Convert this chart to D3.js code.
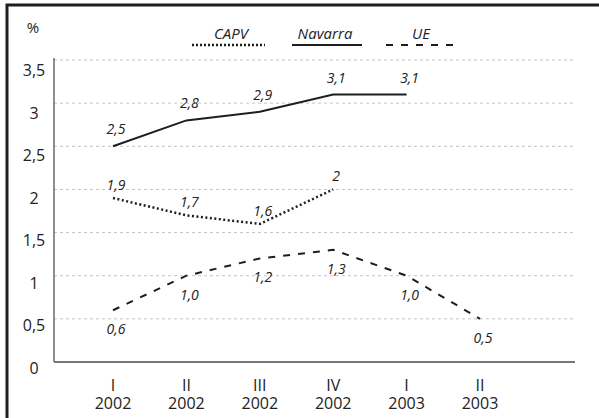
<!DOCTYPE html>
<html>
<head>
<meta charset="utf-8">
<script src="https://cdn.jsdelivr.net/npm/d3@7"></script>
<style>
  body { margin: 0; background: #fff; }
  svg { display: block; font-family: "Open Sans", "Noto Sans", sans-serif; }
</style>
</head>
<body>
<svg id="chart" width="599" height="418"></svg>
<script>
var quarters = ['I', 'II', 'III', 'IV', 'I', 'II'];
var years = ['2002', '2002', '2002', '2002', '2003', '2003'];
var yTicks = [0, 0.5, 1, 1.5, 2, 2.5, 3, 3.5];

var navarra = [2.5, 2.8, 2.9, 3.1, 3.1];
var navarraLabels = ['2,5', '2,8', '2,9', '3,1', '3,1'];
var capv = [1.9, 1.7, 1.6, 2.0];
var capvLabels = ['1,9', '1,7', '1,6', '2'];
var ue = [0.6, 1.0, 1.2, 1.3, 1.0, 0.5];
var ueLabels = ['0,6', '1,0', '1,2', '1,3', '1,0', '0,5'];

(function () {
	var svg = d3.select('#chart');
	var left = 54, right = 575;

	var x = d3.scaleLinear().domain([0, 5]).range([113, 480]);
	var y = d3.scaleLinear().domain([0, 3.5]).range([362, 60]);
	// tick labels sit a little under their gridlines, drifting slightly
	var yLab = d3.scaleLinear().domain([0, 3.5]).range([374, 76]);

	// frame
	svg.append('rect')
		.attr('x', 7).attr('y', 5)
		.attr('width', 620).attr('height', 430)
		.attr('fill', 'none')
		.attr('stroke', '#1e1e1e')
		.attr('stroke-width', 3);

	// grid
	svg.selectAll('line.grid')
		.data(yTicks.filter(function (d) { return d > 0; }))
		.enter().append('line')
		.attr('class', 'grid')
		.attr('x1', left).attr('x2', right)
		.attr('y1', function (d) { return y(d); })
		.attr('y2', function (d) { return y(d); })
		.attr('stroke', '#c4c4c4')
		.attr('stroke-width', 1)
		.attr('stroke-dasharray', '3,3');

	// axes lines
	svg.append('line')
		.attr('x1', left).attr('x2', left)
		.attr('y1', y(3.5) - 2).attr('y2', y(0))
		.attr('stroke', '#444').attr('stroke-width', 1.2);
	svg.append('line')
		.attr('x1', left).attr('x2', right)
		.attr('y1', y(0)).attr('y2', y(0))
		.attr('stroke', '#777').attr('stroke-width', 2);

	// y tick labels
	svg.selectAll('text.ytick')
		.data(yTicks)
		.enter().append('text')
		.attr('class', 'ytick')
		.attr('x', 34)
		.attr('y', function (d) { return yLab(d); })
		.attr('text-anchor', 'middle')
		.attr('font-size', 16)
		.attr('fill', '#222')
		.text(function (d) { return String(d).replace('.', ','); });

	svg.append('text')
		.attr('x', 33).attr('y', 33)
		.attr('text-anchor', 'middle')
		.attr('font-size', 15)
		.attr('fill', '#222')
		.text('%');

	// x labels: quarter over year
	var xl = svg.selectAll('text.xl')
		.data(quarters)
		.enter().append('text')
		.attr('class', 'xl')
		.attr('text-anchor', 'middle')
		.attr('font-size', 16)
		.attr('fill', '#222');
	xl.append('tspan')
		.attr('x', function (d, i) { return x(i); })
		.attr('y', 391)
		.text(function (d) { return d; });
	xl.append('tspan')
		.attr('x', function (d, i) { return x(i); })
		.attr('y', 409)
		.text(function (d, i) { return years[i]; });

	var line = d3.line()
		.x(function (d, i) { return x(i); })
		.y(function (d) { return y(d); });

	var series = [
		{ values: navarra, labels: navarraLabels, dash: null, width: 2, dy: -17 },
		{ values: capv, labels: capvLabels, dash: '2,2.5', width: 2.5, dy: -13 },
		{ values: ue, labels: ueLabels, dash: '7,8', width: 2, dy: 19 }
	];

	series.forEach(function (s) {
		svg.append('path')
			.datum(s.values)
			.attr('d', line)
			.attr('fill', 'none')
			.attr('stroke', '#1e1e1e')
			.attr('stroke-width', s.width)
			.attr('stroke-dasharray', s.dash);

		svg.selectAll(null)
			.data(s.values)
			.enter().append('text')
			.attr('x', function (d, i) { return x(i) + 3; })
			.attr('y', function (d) { return y(d) + s.dy + 5; })
			.attr('text-anchor', 'middle')
			.attr('font-size', 14)
			.attr('font-style', 'italic')
			.attr('fill', '#222')
			.text(function (d, i) { return s.labels[i]; });
	});

	// legend
	var legend = [
		{ name: 'CAPV', x1: 192, x2: 265, tx: 231, dash: '2,2', width: 2.5 },
		{ name: 'Navarra', x1: 292, x2: 362, tx: 325, dash: null, width: 2 },
		{ name: 'UE', x1: 386, x2: 458, tx: 421, dash: '7,8', width: 2 }
	];
	legend.forEach(function (l) {
		svg.append('text')
			.attr('x', l.tx).attr('y', 39)
			.attr('text-anchor', 'middle')
			.attr('font-size', 15)
			.attr('font-style', 'italic')
			.attr('fill', '#222')
			.text(l.name);
		svg.append('line')
			.attr('x1', l.x1).attr('x2', l.x2)
			.attr('y1', 45).attr('y2', 45)
			.attr('stroke', '#1e1e1e')
			.attr('stroke-width', l.width)
			.attr('stroke-dasharray', l.dash);
	});
}());
</script>
</body>
</html>
